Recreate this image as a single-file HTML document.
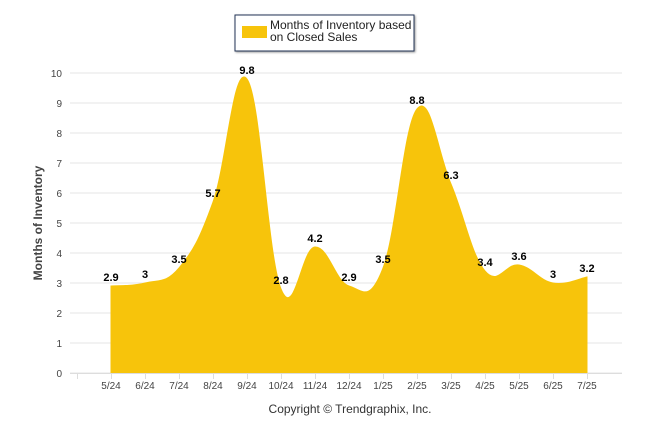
<!DOCTYPE html>
<html><head><meta charset="utf-8"><style>
body{margin:0;background:#fff;font-family:"Liberation Sans",sans-serif}
svg text{font-family:"Liberation Sans",sans-serif}
</style></head><body>
<svg width="646" height="434" viewBox="0 0 646 434" id="c">
<rect width="646" height="434" fill="#fff"/>
<g id="grid"></g>
<g id="series"></g>
<g id="labels"></g>
<g id="xaxis"></g>
<text x="42" y="223" transform="rotate(-90 42 223)" text-anchor="middle" font-size="12" font-weight="bold" fill="#444">Months of Inventory</text>
<text x="350" y="413" text-anchor="middle" font-size="12" fill="#333">Copyright © Trendgraphix, Inc.</text>
<g>
<rect x="235" y="15" width="179" height="36" fill="#fff" stroke="#223355" stroke-width="1" style="filter:drop-shadow(1px 1px 1px #999)"/>
<rect x="242" y="26" width="25" height="12" fill="#F7C40B"/>
<text x="270" y="29" font-size="12" fill="#222">Months of Inventory based</text>
<text x="270" y="41" font-size="12" fill="#222">on Closed Sales</text>
</g>
</svg>
<script>
const categories=["5/24","6/24","7/24","8/24","9/24","10/24","11/24","12/24","1/25","2/25","3/25","4/25","5/25","6/25","7/25"];
const values=[2.9,3,3.5,5.7,9.8,2.8,4.2,2.9,3.5,8.8,6.3,3.4,3.6,3,3.2];
const yTicks=[0,1,2,3,4,5,6,7,8,9,10];
const NS="http://www.w3.org/2000/svg";
const X=i=>111+i*34, Y=v=>373-v*30;
function mk(t,a,p){const e=document.createElementNS(NS,t);for(const k in a)e.setAttribute(k,a[k]);p.appendChild(e);return e;}
const grid=document.getElementById('grid');
yTicks.forEach(t=>{
 const l=mk('line',{x1:70,x2:622,y1:Y(t),y2:Y(t),stroke:'#e6e6e6'},grid);
 
 
 const tx=mk('text',{x:62,y:Y(t)+4,'text-anchor':'end','font-size':10,fill:'#444'},grid);
 tx.textContent=t;
 
 
});
const xa=document.getElementById('xaxis');
mk('line',{x1:70,x2:622,y1:373.5,y2:373.5,stroke:'#ddd'},xa);
for(let i=-1;i<categories.length;i++){mk('line',{x1:X(i)+0.5,x2:X(i)+0.5,y1:374,y2:379,stroke:'#ddd'},xa);}
categories.forEach((c,i)=>{
 const t=mk('text',{x:X(i),y:389,'text-anchor':'middle','font-size':10,fill:'#444'},xa);
 t.textContent=c;
 
 
});
const pts=values.map((v,i)=>[X(i),Y(v)]);
let d='M'+pts[0][0]+','+pts[0][1];
for(let i=0;i<pts.length-1;i++){
 const p0=pts[Math.max(i-1,0)],p1=pts[i],p2=pts[i+1],p3=pts[Math.min(i+2,pts.length-1)];
 const k=1/5;
 d+=` C${p1[0]+(p2[0]-p0[0])*k},${p1[1]+(p2[1]-p0[1])*k} ${p2[0]-(p3[0]-p1[0])*k},${p2[1]-(p3[1]-p1[1])*k} ${p2[0]},${p2[1]}`;
}
const area=d+` L${pts[pts.length-1][0]},${Y(0)} L${pts[0][0]},${Y(0)} Z`;
const s=document.getElementById('series');
const a=mk('path',{d:area,fill:'#F7C40B',stroke:'#F7C40B','stroke-width':1},s);


const lb=document.getElementById('labels');
values.forEach((v,i)=>{
 const t=mk('text',{x:X(i),y:Y(v)-5,'text-anchor':'middle','font-size':11,'font-weight':'bold',fill:'#000'},lb);
 t.textContent=v;
 
 
});
</script>
</body></html>
